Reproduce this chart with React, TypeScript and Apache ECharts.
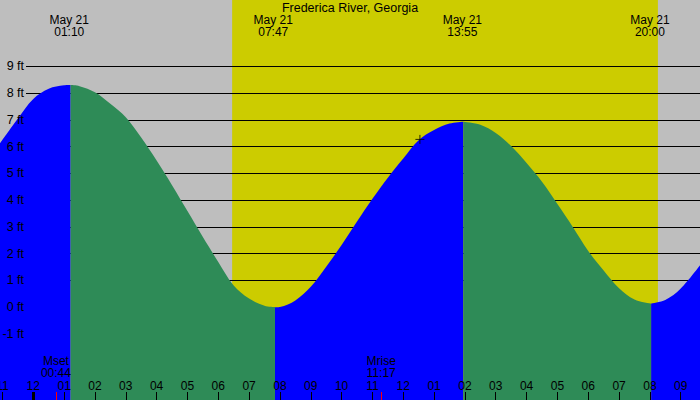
import { useEffect, useRef } from "react"
import * as echarts from "echarts"

const STATION = "Frederica River, Georgia"
const DAY_LABEL = "May 21"

// time is in hours after midnight of May 21, heights in feet
const X_MIN = -1.08
const X_MAX = 21.625
const Y_MIN = -3.47
const Y_MAX = 11.48

const HOUR_TICKS = [-1, 0, 1, 2, 3, 4, 5, 6, 7, 8, 9, 10, 11, 12, 13, 14, 15, 16, 17, 18, 19, 20, 21]
const FT_LABELS = [-1, 0, 1, 2, 3, 4, 5, 6, 7, 8, 9]
const FT_LINES = [1, 2, 3, 4, 5, 6, 7, 8, 9]

const SUNRISE = 6.45
const SUNSET = 20.26

const EVENT_TIMES = [1.167, 7.783, 13.917, 20.0]
const EVENT_LABELS = ["01:10", "07:47", "13:55", "20:00"]

const MOON_TIMES = [0.733, 11.283]
const MOON_LABELS = ["Mset\n00:44", "Mrise\n11:17"]

const risingA: [number, number][] = [
  [-1.08, 6.12], [-0.5, 7.05], [0.0, 7.78], [0.5, 8.16], [1.0, 8.29], [1.21, 8.3],
]
const fallingB: [number, number][] = [
  [1.21, 8.3], [1.5, 8.26], [2.0, 8.03], [2.5, 7.6], [3.0, 7.1], [3.5, 6.34],
  [4.0, 5.48], [4.5, 4.56], [5.0, 3.59], [5.5, 2.62], [6.0, 1.69], [6.5, 0.81],
  [7.0, 0.32], [7.5, 0.05], [7.84, 0.0],
]
const risingC: [number, number][] = [
  [7.84, 0.0], [8.0, 0.01], [8.5, 0.25], [9.0, 0.76], [9.5, 1.51], [10.0, 2.32],
  [10.5, 3.2], [11.0, 4.05], [11.5, 4.84], [12.0, 5.56], [12.5, 6.24], [13.0, 6.62],
  [13.5, 6.86], [13.95, 6.93],
]
const fallingD: [number, number][] = [
  [13.95, 6.93], [14.5, 6.82], [15.0, 6.51], [15.5, 6.02], [16.0, 5.39], [16.5, 4.69],
  [17.0, 3.86], [17.5, 3.0], [18.0, 2.1], [18.5, 1.37], [19.0, 0.71], [19.5, 0.29],
  [20.04, 0.14],
]
const risingE: [number, number][] = [
  [20.04, 0.14], [20.5, 0.27], [21.0, 0.7], [21.625, 1.57],
]

const NOW: [number, number] = [12.54, 6.27]

const FONT = "Liberation Sans"
const RISE_COLOR = "#0000ff"
const FALL_COLOR = "#2e8b57"

function hourLabel(v: number) {
  const h = ((Math.round(v) % 12) + 12) % 12 || 12
  return String(h).padStart(2, "0")
}

function tideSeries(data: [number, number][], color: string) {
  return {
    type: "line",
    data,
    smooth: 0.35,
    symbol: "none",
    silent: true,
    z: 2,
    lineStyle: { width: 0 },
    areaStyle: { color, opacity: 1, origin: "start" },
  }
}

export default function App() {
  const ref = useRef<HTMLDivElement>(null)

  useEffect(() => {
    if (!ref.current) return
    const chart = echarts.init(ref.current, null, { renderer: "svg" })

    chart.setOption({
      animation: false,
      backgroundColor: "#bebebe",
      textStyle: { fontFamily: FONT, color: "#000" },
      title: {
        text: STATION,
        left: "center",
        top: 1,
        padding: 0,
        textStyle: { fontFamily: FONT, fontSize: 12.5, fontWeight: "normal", color: "#000" },
      },
      grid: { left: 0, right: 0, top: 0, bottom: 0, containLabel: false, outerBoundsMode: "none" },
      xAxis: {
        type: "value",
        min: X_MIN,
        max: X_MAX,
        z: 6,
        axisLine: { show: false, onZero: false },
        splitLine: { show: false },
        axisTick: {
          inside: true,
          length: 8,
          customValues: HOUR_TICKS,
          lineStyle: { color: "#000", width: 1 },
        },
        axisLabel: {
          inside: true,
          margin: 8,
          customValues: HOUR_TICKS,
          formatter: hourLabel,
          fontFamily: FONT,
          fontSize: 12,
          color: "#000",
        },
      },
      yAxis: {
        type: "value",
        min: Y_MIN,
        max: Y_MAX,
        z: 6,
        axisLine: { show: false, onZero: false },
        axisTick: { show: false },
        splitLine: { show: false },
        axisLabel: {
          inside: true,
          align: "right",
          margin: 24,
          customValues: FT_LABELS,
          formatter: (v: number) => `${v} ft`,
          fontFamily: FONT,
          fontSize: 12.5,
          color: "#000",
        },
      },
      series: [
        {
          // daylight band and height lines behind the tide
          type: "line",
          data: [],
          silent: true,
          markArea: {
            silent: true,
            z: 1,
            itemStyle: { color: "#cccc00" },
            data: [[{ xAxis: SUNRISE }, { xAxis: SUNSET }]],
          },
          markLine: {
            silent: true,
            z: 1.5,
            symbol: ["none", "none"],
            label: { show: false },
            lineStyle: { color: "#000", width: 1, type: "solid" },
            emphasis: { disabled: true },
            data: FT_LINES.map((v) => [
              { x: 26, yAxis: v },
              { x: 700, yAxis: v },
            ]),
          },
        },
        tideSeries(risingA, RISE_COLOR),
        tideSeries(fallingB, FALL_COLOR),
        tideSeries(risingC, RISE_COLOR),
        tideSeries(fallingD, FALL_COLOR),
        tideSeries(risingE, RISE_COLOR),
        {
          type: "line",
          data: [],
          silent: true,
          markLine: {
            silent: true,
            z: 5,
            symbol: ["none", "none"],
            label: { show: false },
            emphasis: { disabled: true },
            data: [
              [
                { xAxis: 0, y: 392, lineStyle: { color: "#000", width: 3, type: "solid" } },
                { xAxis: 0, y: 400 },
              ],
              ...MOON_TIMES.map((t, i) => [
                {
                  xAxis: t,
                  y: 392,
                  lineStyle: { color: "#ff0000", width: 1, type: "solid" },
                  label: {
                    show: true,
                    position: "start",
                    distance: 13,
                    formatter: MOON_LABELS[i],
                    fontFamily: FONT,
                    fontSize: 12,
                    lineHeight: 12,
                    color: "#000",
                  },
                },
                { xAxis: t, y: 400 },
              ]),
            ],
          },
          markPoint: {
            silent: true,
            z: 5,
            symbol: "circle",
            symbolSize: 0,
            itemStyle: { color: "transparent" },
            label: {
              show: true,
              position: "bottom",
              distance: 14,
              fontFamily: FONT,
              fontSize: 12,
              lineHeight: 12,
              color: "#000",
            },
            data: EVENT_TIMES.map((t, i) => ({
              coord: [t, Y_MAX],
              label: { formatter: `${DAY_LABEL}\n${EVENT_LABELS[i]}` },
            })),
          },
        },
        {
          type: "scatter",
          data: [NOW],
          silent: true,
          z: 4,
          symbol: "path://M0,5H10M5,0V10",
          symbolSize: 9,
          itemStyle: { color: "none", borderColor: "#000", borderWidth: 1 },
        },
      ],
    })

    return () => chart.dispose()
  }, [])

  return (
    <div
      ref={ref}
      style={{ position: "absolute", left: 0, top: 0, width: 700, height: 400 }}
    />
  )
}
